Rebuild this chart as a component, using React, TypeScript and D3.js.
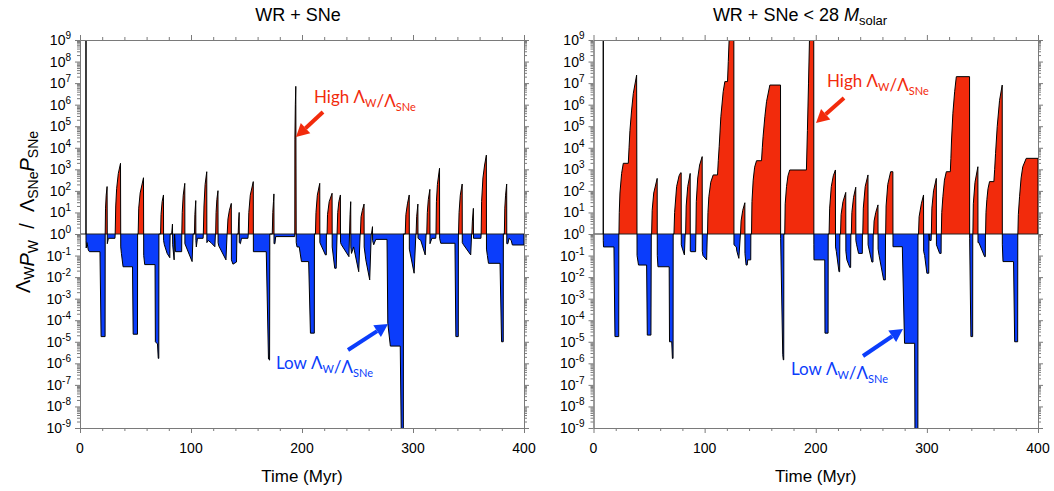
import React, { useRef, useEffect } from 'react';
import * as d3 from 'd3';

// [time (Myr), log10 of Lambda_W P_W / Lambda_SNe P_SNe]
type Pt = [number, number];

const wrSne: Pt[] = [
  [5.4, 0], [5.4, 9.6], [5.4, -0.3],
  [5.6, -0.65], [6.3, -0.4], [7.5, -0.75], [8.5, -0.82], [18.0, -0.82], [19.0, -4.76], [22.6, -4.76], [22.7, 0],
  [23.0, 1.2], [23.6, 1.8], [24.4, 2.2], [24.6, -0.45], [25.6, -0.2], [31.5, -0.2], [31.7, 0],
  [32.2, 1.3], [33.0, 2.1], [34.5, 2.8], [36.5, 3.28], [36.7, -0.6], [37.3, -0.9], [38.8, -1.52], [47.3, -1.52], [47.9, -4.65], [51.8, -4.65], [51.9, 0], [52.4, 0],
  [52.9, 1.2], [54.2, 1.9], [57.2, 2.61], [57.4, -1.0], [58.3, -1.42], [67.6, -1.42], [67.9, -5.0], [69.8, -5.1], [70.5, -5.77], [71.0, -5.77], [71.1, 0], [72.6, 0],
  [73.0, 0.9], [74.0, 1.5], [75.2, 1.81], [75.3, -0.3], [76.0, -0.5], [78.5, -0.9], [80.9, -1.1], [81.2, 0], [82.6, 0], [83.3, 0.46], [83.5, -0.5], [84.8, -1.2], [85.2, 0], [85.6, -0.3], [86.0, -0.82], [91.6, -0.82], [91.7, 0],
  [92.1, 1.0], [93.0, 1.8], [94.4, 2.35], [94.5, -0.45], [101.0, -1.28], [101.9, 0], [103.1, 0],
  [103.5, 0.9], [104.3, 1.55], [104.4, -0.3], [104.8, -0.6], [105.8, -0.2], [110.9, -0.2], [111.1, 0],
  [111.7, 1.3], [112.7, 2.3], [114.2, 2.89], [114.3, -0.4], [115.5, -0.3], [118.0, -0.4], [121.5, -0.59], [122.0, 0], [122.2, 0],
  [122.6, 1.0], [123.3, 1.6], [124.3, 2.01], [124.4, -0.4], [125.0, -0.55], [131.5, -1.2], [132.5, 0], [132.6, 0],
  [133.3, 0.7], [134.6, 1.1], [136.3, 1.42], [136.4, -1.2], [137.8, -1.4], [141.0, -1.3], [141.4, 0], [142.5, 0],
  [142.9, 0.6], [143.4, 1.0], [143.5, -0.4], [144.5, -0.45], [145.5, -0.2], [151.3, -0.2], [151.6, 0],
  [152.1, 1.0], [153.4, 1.8], [156.1, 2.43], [156.2, -0.82], [167.8, -0.82], [169.8, -5.8], [170.8, -5.85], [171.0, 0], [173.2, 0],
  [173.7, 1.0], [174.3, 1.5], [174.7, 1.86], [174.8, -0.45], [175.6, -0.45], [176.3, -0.12], [193.4, -0.12], [193.5, 0],
  [193.6, 4.4], [194.0, 6.0], [194.4, 6.85], [194.8, -0.4], [195.5, -0.6], [197.5, -0.6], [199.5, -1.28], [206.0, -1.28], [207.6, -4.6], [211.1, -4.6], [211.2, 0], [212.1, 0],
  [212.6, 1.0], [213.8, 1.8], [216.0, 2.35], [216.1, -0.4], [221.1, -0.97], [221.9, -0.97], [222.0, 0], [222.6, 0],
  [223.0, 0.9], [224.5, 1.5], [227.1, 1.89], [227.2, -0.6], [229.5, -1.59], [230.8, -1.59], [231.6, 0],
  [232.2, 1.0], [233.2, 1.5], [234.6, 1.81], [234.7, -0.4], [235.5, -0.5], [242.3, -1.05], [242.8, 0],
  [243.3, 0.9], [243.9, 1.5], [244.0, -0.6], [244.6, -0.9], [246.5, -0.6], [251.1, -1.75], [252.4, 0], [252.6, 0],
  [253.2, 0.8], [254.4, 1.1], [255.9, 1.39], [256.0, -0.6], [257.5, -1.2], [261.0, -2.13], [262.4, 0], [262.6, 0],
  [263.5, 0.34], [263.6, -0.3], [264.6, -0.5], [266.5, -0.25], [276.6, -0.25], [277.3, -4.14], [279.6, -5.2], [288.5, -5.2], [289.5, -9.6], [291.3, -9.6], [291.4, 0], [293.0, 0],
  [293.6, 0.9], [295.0, 1.4], [296.6, 1.81], [296.7, -0.7], [301.0, -1.82], [302.6, 0], [302.8, 0],
  [303.3, 0.8], [304.4, 1.39], [304.5, -0.2], [307.0, -0.3], [311.0, -0.97], [311.8, 0], [312.4, 0],
  [312.9, 1.0], [313.8, 1.6], [315.2, 2.07], [315.3, -0.45], [317.0, -0.2], [320.5, -0.2], [320.7, 0],
  [321.1, 1.5], [322.0, 2.3], [323.9, 3.05], [324.0, -0.2], [325.0, -0.43], [337.8, -0.43], [338.6, -4.76], [340.8, -4.76], [340.9, 0], [341.0, 0],
  [341.5, 1.0], [342.6, 1.8], [344.3, 2.32], [344.4, -0.4], [345.5, -0.5], [352.0, -0.97], [352.8, 0], [353.0, 0],
  [353.5, 0.6], [354.4, 1.19], [354.5, -0.2], [361.2, -0.2], [361.4, 0],
  [361.8, 1.5], [363.0, 2.6], [364.5, 3.2], [366.1, 3.66], [366.2, -0.7], [367.0, -1.0], [368.0, -1.36], [378.4, -1.36], [379.8, -5.0], [381.3, -5.0], [381.4, 0], [382.3, 0],
  [382.7, 1.2], [383.4, 1.8], [384.4, 2.32], [384.5, -0.45], [385.5, -0.45], [386.5, -0.2], [388.5, -0.3], [389.5, -0.51], [400.0, -0.51], [400.0, 0],
];

const wrSneBelow28: Pt[] = [
  [8.8, 0], [8.8, 9.6], [8.8, -0.3], [9.0, -0.6], [18.4, -0.6], [19.3, -4.76], [22.7, -4.76], [22.8, 0], [22.9, 0],
  [23.2, 1.0], [23.8, 1.9], [25.3, 2.81], [26.8, 3.28], [31.3, 3.28], [32.0, 4.0], [32.8, 4.8], [34.3, 5.75], [35.8, 6.52], [38.8, 7.37], [39.2, -1.0], [40.5, -1.44], [47.8, -1.44], [48.4, -4.69], [51.7, -4.69], [52.0, 0], [52.3, 0],
  [52.8, 1.1], [54.2, 1.9], [57.3, 2.58], [57.4, -1.0], [58.0, -1.52], [68.1, -1.52], [68.4, -5.0], [70.4, -5.0], [71.0, -5.77], [71.6, -5.77], [71.7, 0], [72.4, 0],
  [73.0, 1.0], [74.8, 2.2], [77.0, 2.7], [78.4, 2.84], [78.9, 2.84], [79.0, -0.5], [79.5, -0.6], [81.8, -0.97], [82.5, 0], [82.9, 0],
  [83.4, 1.3], [84.8, 2.2], [87.0, 2.81], [87.1, -0.8], [87.6, -0.82], [91.9, -0.82], [92.1, 0],
  [92.5, 1.5], [93.8, 2.6], [95.5, 3.2], [97.8, 3.59], [97.9, -0.8], [98.5, -1.0], [101.8, -1.2], [102.4, 0], [102.6, 0],
  [103.0, 1.0], [103.8, 1.73], [105.5, 2.4], [107.7, 2.74], [111.6, 2.74], [112.3, 3.4], [113.1, 4.05], [114.6, 5.44], [116.7, 6.6], [118.2, 7.07], [120.6, 7.07], [121.3, 8.0], [122.5, 9.6], [126.3, 9.6], [126.4, -0.5], [128.5, -0.6], [129.0, -0.8], [130.8, -1.13], [132.2, 0], [132.3, 0],
  [132.8, 0.6], [134.3, 1.1], [136.2, 1.45], [136.3, -0.9], [137.3, -1.44], [138.3, -1.44], [138.8, -1.2], [141.5, -1.2], [141.6, 0], [142.2, 0],
  [142.6, 1.5], [143.7, 2.5], [145.0, 3.1], [146.7, 3.4], [151.2, 3.4], [151.9, 4.0], [152.6, 4.51], [154.2, 5.44], [155.7, 6.14], [158.7, 6.91], [168.3, 6.91], [168.4, -0.2], [170.3, -5.6], [170.8, -5.84], [171.2, -5.84], [171.3, 0], [172.1, 0],
  [172.5, 1.4], [173.7, 2.2], [175.0, 2.7], [176.6, 2.97], [191.6, 2.97], [192.5, 4.8], [193.5, 7.0], [194.6, 9.6], [198.2, 9.6], [198.3, -0.5], [198.4, -1.2], [208.1, -1.2], [208.3, -4.6], [211.1, -4.6], [211.2, 0], [212.0, 0],
  [212.5, 1.2], [214.0, 2.2], [215.8, 2.7], [217.7, 2.97], [217.8, -0.6], [218.5, -0.8], [220.9, -1.75], [221.5, -1.75], [221.7, 0], [222.3, 0],
  [222.8, 0.9], [224.5, 1.5], [227.0, 1.93], [227.1, -0.8], [228.0, -1.2], [230.6, -1.55], [231.4, -1.55], [231.6, 0], [232.0, 0],
  [232.5, 1.0], [234.0, 1.7], [236.0, 2.17], [236.1, -0.3], [236.8, -0.5], [238.5, -0.9], [241.9, -0.9], [242.0, 0], [242.3, 0],
  [242.8, 1.2], [244.5, 2.2], [247.0, 2.74], [247.1, -0.5], [247.5, -0.6], [250.5, -1.3], [251.5, -1.3], [251.7, 0], [252.0, 0],
  [252.5, 0.6], [254.0, 1.0], [256.0, 1.35], [256.1, -0.7], [257.0, -1.0], [261.1, -2.13], [262.6, -2.13], [262.8, 0], [262.9, 0],
  [263.3, 1.3], [264.8, 2.3], [267.4, 2.89], [269.4, 2.89], [269.5, -0.59], [277.9, -0.59], [279.9, -5.07], [289.0, -5.07], [289.3, -9.6], [291.9, -9.6], [292.0, 0], [292.5, 0],
  [293.0, 0.8], [295.0, 1.4], [297.0, 1.81], [297.1, -0.8], [298.0, -1.0], [300.0, -1.82], [301.7, -1.82], [301.9, 0], [302.5, -0.3], [303.8, -0.3], [304.0, 0],
  [304.5, 1.2], [306.0, 2.0], [308.5, 2.58], [308.6, -0.5], [309.3, -0.6], [311.5, -0.9], [312.8, -0.9], [312.9, 0], [313.0, 0],
  [313.4, 1.0], [314.4, 1.73], [315.8, 2.5], [317.5, 2.89], [321.1, 2.89], [321.6, 3.5], [322.2, 4.36], [323.4, 5.6], [325.0, 6.6], [326.5, 7.3], [338.4, 7.3], [338.5, -0.2], [339.6, -4.76], [341.2, -4.76], [341.3, 0], [341.4, 0],
  [341.8, 1.4], [343.3, 2.4], [345.9, 3.12], [346.0, -0.4], [346.8, -0.4], [351.9, -1.05], [352.6, -1.05], [352.7, 0], [352.8, 0],
  [353.2, 1.0], [354.0, 1.6], [355.0, 2.1], [356.4, 2.43], [360.3, 2.43], [361.0, 3.0], [361.8, 3.74], [363.3, 4.98], [365.4, 6.2], [367.8, 6.91], [367.9, -0.5], [368.5, -1.28], [378.0, -1.28], [379.0, -5.0], [381.7, -5.0], [381.8, 0], [381.9, 0],
  [382.3, 0.9], [383.4, 1.73], [384.8, 2.6], [386.3, 3.12], [389.4, 3.51], [400.0, 3.51], [400.0, 0],
];

const xMajor = [0, 100, 200, 300, 400];
const yExponents = [-9, -8, -7, -6, -5, -4, -3, -2, -1, 0, 1, 2, 3, 4, 5, 6, 7, 8, 9];

const RED = '#f22b0c';
const BLUE = '#0b3dfb';
const AXIS = '#7a7a7a';
const FONT = '"Liberation Sans", Arial, sans-serif';
const NOTE_FONT = 'Lato, "Open Sans", sans-serif';

const TOP = 40, BOTTOM = 428;

const panels = [
  {
    data: wrSne, left: 80, right: 524, yTitle: true,
    high: { tx: 314, ty: 103, from: [323, 112], to: [296, 137] },
    low: { tx: 373, ty: 369, from: [348, 350], to: [388, 324] },
  },
  {
    data: wrSneBelow28, left: 593.5, right: 1038, yTitle: false,
    high: { tx: 827, ty: 87, from: [844, 98], to: [816, 123] },
    low: { tx: 888, ty: 375, from: [863, 356], to: [903, 329] },
  },
];

function addSub(t: any, main: string, sub: string, size: number) {
  t.append('tspan').text(main);
  t.append('tspan').attr('dy', 4).attr('font-size', size).text(sub);
  t.append('tspan').attr('dy', -4).text('');
}

function arrow(g: any, from: number[], to: number[], color: string) {
  const dx = to[0] - from[0], dy = to[1] - from[1];
  const len = Math.hypot(dx, dy);
  const ux = dx / len, uy = dy / len;
  const bx = to[0] - ux * 13, by = to[1] - uy * 13;
  g.append('line').attr('x1', from[0]).attr('y1', from[1]).attr('x2', bx).attr('y2', by)
    .attr('stroke', color).attr('stroke-width', 4);
  g.append('path')
    .attr('d', `M${to[0]},${to[1]}L${bx - uy * 7},${by + ux * 7}L${bx + uy * 7},${by - ux * 7}Z`)
    .attr('fill', color);
}

const App = () => {
  const ref = useRef<SVGSVGElement>(null);

  useEffect(() => {
    document.body.style.margin = '0';
    const svg = d3.select(ref.current);
    svg.selectAll('*').remove();
    const defs = svg.append('defs');

    const y = d3.scaleLog().domain([1e-9, 1e9]).range([BOTTOM, TOP]);
    const base = y(1);

    panels.forEach((p, i) => {
      const x = d3.scaleLinear().domain([0, 400]).range([p.left, p.right]);
      const w = p.right - p.left;
      const g = svg.append('g');

      defs.append('clipPath').attr('id', `up${i}`).append('rect')
        .attr('x', p.left).attr('y', TOP).attr('width', w).attr('height', base - TOP);
      defs.append('clipPath').attr('id', `dn${i}`).append('rect')
        .attr('x', p.left).attr('y', base).attr('width', w).attr('height', BOTTOM - base);
      defs.append('clipPath').attr('id', `all${i}`).append('rect')
        .attr('x', p.left).attr('y', TOP).attr('width', w).attr('height', BOTTOM - TOP);

      const area = d3.area<Pt>().x(d => x(d[0])).y0(base).y1(d => y(10 ** d[1]));
      const line = d3.line<Pt>().x(d => x(d[0])).y(d => y(10 ** d[1]));

      g.append('path').datum(p.data).attr('d', area).attr('fill', RED).attr('clip-path', `url(#up${i})`);
      g.append('path').datum(p.data).attr('d', area).attr('fill', BLUE).attr('clip-path', `url(#dn${i})`);
      g.append('line').attr('x1', p.left).attr('x2', p.right).attr('y1', base).attr('y2', base)
        .attr('stroke', '#222').attr('stroke-width', 1);
      g.append('path').datum(p.data).attr('d', line).attr('fill', 'none')
        .attr('stroke', '#000').attr('stroke-width', 1).attr('stroke-linejoin', 'round')
        .attr('clip-path', `url(#all${i})`);

      // frame with outward ticks on all four sides
      const xMinor = d3.range(0, 401, 20).filter(v => v % 100 !== 0);
      const yMinor: number[] = [];
      for (let e = -9; e < 9; e++) for (let k = 2; k <= 9; k++) yMinor.push(k * 10 ** e);
      const yMajor = yExponents.map(e => 10 ** e);

      const axes = [
        { a: d3.axisBottom(x), t: `translate(0,${BOTTOM})`, maj: xMajor, min: xMinor },
        { a: d3.axisTop(x), t: `translate(0,${TOP})`, maj: xMajor, min: xMinor },
        { a: d3.axisLeft(y), t: `translate(${p.left},0)`, maj: yMajor, min: yMinor },
        { a: d3.axisRight(y), t: `translate(${p.right},0)`, maj: yMajor, min: yMinor },
      ];
      axes.forEach(({ a, t, maj, min }) => {
        g.append('g').attr('transform', t).attr('color', AXIS)
          .call((a as any).tickValues(min).tickSize(3).tickSizeOuter(0).tickFormat(() => ''));
        g.append('g').attr('transform', t).attr('color', AXIS)
          .call((a as any).tickValues(maj).tickSize(5).tickSizeOuter(0).tickFormat(() => ''));
      });

      // x tick labels
      xMajor.forEach(v => {
        g.append('text').attr('x', x(v)).attr('y', BOTTOM + 25).attr('text-anchor', 'middle')
          .attr('font-family', FONT).attr('font-size', 14).attr('fill', '#000').text(v);
      });
      g.append('text').attr('x', (p.left + p.right) / 2).attr('y', 482).attr('text-anchor', 'middle')
        .attr('font-family', FONT).attr('font-size', 17).attr('fill', '#000').text('Time (Myr)');

      // y tick labels, 10^n
      yExponents.forEach(e => {
        const t = g.append('text').attr('x', p.left - 9).attr('y', y(10 ** e) + 5)
          .attr('text-anchor', 'end').attr('font-family', FONT).attr('font-size', 14).attr('fill', '#000');
        t.append('tspan').text('10');
        t.append('tspan').attr('dy', -6).attr('font-size', 10).text(String(e));
      });

      // annotations
      const hi = g.append('text').attr('x', p.high.tx).attr('y', p.high.ty)
        .attr('font-family', NOTE_FONT).attr('font-size', 17).attr('fill', RED);
      addSub(hi, 'High Λ', 'W', 11);
      addSub(hi, '/Λ', 'SNe', 11);
      arrow(g, p.high.from, p.high.to, RED);

      const lo = g.append('text').attr('x', p.low.tx).attr('y', p.low.ty).attr('text-anchor', 'end')
        .attr('font-family', NOTE_FONT).attr('font-size', 17).attr('fill', BLUE);
      addSub(lo, 'Low Λ', 'W', 11);
      addSub(lo, '/Λ', 'SNe', 11);
      arrow(g, p.low.from, p.low.to, BLUE);

      if (p.yTitle) {
        const yt = svg.append('text').attr('transform', 'translate(30,212) rotate(-90)')
          .attr('text-anchor', 'middle').attr('font-family', FONT).attr('font-size', 20).attr('fill', '#000')
          .attr('xml:space', 'preserve');
        addSub(yt, 'Λ', 'W', 14);
        yt.append('tspan').attr('font-style', 'italic').text('P');
        yt.append('tspan').attr('dy', 4).attr('font-size', 14).text('W');
        yt.append('tspan').attr('dy', -4).text('  /  Λ');
        yt.append('tspan').attr('dy', 4).attr('font-size', 14).text('SNe');
        yt.append('tspan').attr('dy', -4).attr('font-style', 'italic').text('P');
        yt.append('tspan').attr('dy', 4).attr('font-size', 14).text('SNe');
      }
    });

    // titles
    svg.append('text').attr('x', 298).attr('y', 21).attr('text-anchor', 'middle')
      .attr('font-family', FONT).attr('font-size', 18).attr('fill', '#000').text('WR + SNe');
    const t2 = svg.append('text').attr('x', 800).attr('y', 21).attr('text-anchor', 'middle')
      .attr('font-family', FONT).attr('font-size', 18).attr('fill', '#000');
    t2.append('tspan').text('WR + SNe < 28 ');
    t2.append('tspan').attr('font-style', 'italic').text('M');
    t2.append('tspan').attr('dy', 4).attr('font-size', 13).text('solar');
  }, []);

  return <svg ref={ref} width={1054} height={491} style={{ display: 'block', background: '#fff' }} />;
};

export default App;
